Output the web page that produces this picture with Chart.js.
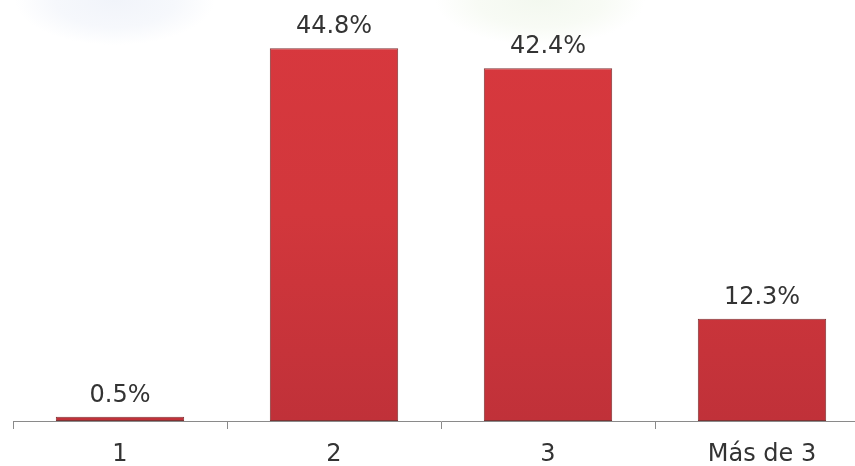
<!DOCTYPE html>
<html>
<head>
<meta charset="utf-8">
<script src="https://cdn.jsdelivr.net/npm/chart.js@4/dist/chart.umd.min.js"></script>
<style>
html,body{margin:0;padding:0;overflow:hidden;width:855px;height:466px;
background:
 radial-gradient(ellipse 100px 45px at 115px 0px, #f1f4fa 0%, #f6f8fc 60%, rgba(255,255,255,0) 100%),
 radial-gradient(ellipse 105px 45px at 540px 0px, #f3f8ef 0%, #f8fbf5 60%, rgba(255,255,255,0) 100%),
 #ffffff;}
canvas{display:block;}
</style>
</head>
<body>
<canvas id="c" width="880" height="466"></canvas>
<script>
const categories = ["1", "2", "3", "Más de 3"];
const values = [0.5, 44.8, 42.4, 12.3];
const valueLabels = ["0.5%", "44.8%", "42.4%", "12.3%"];

const FONT = '"DejaVu Sans", Verdana, sans-serif';

const labelPlugin = {
  id: 'valueLabels',
  afterDatasetsDraw(chart) {
    const ctx = chart.ctx;
    const meta = chart.getDatasetMeta(0);
    ctx.save();
    ctx.font = '24px ' + FONT;
    ctx.fillStyle = '#333333';
    ctx.textAlign = 'center';
    ctx.textBaseline = 'alphabetic';
    meta.data.forEach((bar, i) => {
      ctx.fillText(valueLabels[i], bar.x, bar.y - 15);
    });
    ctx.restore();
  }
};

function barFill(context) {
  const chart = context.chart;
  const area = chart.chartArea;
  if (!area) return '#d2363c';
  const g = chart.ctx.createLinearGradient(0, area.top, 0, area.bottom);
  g.addColorStop(0, '#d8383e');
  g.addColorStop(0.5, '#d2373c');
  g.addColorStop(1, '#c03139');
  return g;
}

new Chart(document.getElementById('c'), {
  type: 'bar',
  data: {
    labels: categories,
    datasets: [{
      data: values,
      backgroundColor: barFill,
      borderColor: '#7e3334',
      borderWidth: 1,
      borderSkipped: false,
      barPercentage: 1,
      categoryPercentage: 0.6
    }]
  },
  options: {
    responsive: false,
    animation: false,
    layout: { padding: { left: 13, right: 11, top: 5, bottom: 0 } },
    plugins: { legend: { display: false }, tooltip: { enabled: false } },
    scales: {
      x: {
        afterFit(scale) { scale.height = 45; },
        border: { display: true, color: '#8a8a8a', width: 1 },
        grid: { display: true, drawOnChartArea: false, drawTicks: true, tickLength: 8, color: '#8a8a8a', offset: true },
        ticks: { color: '#333333', padding: 11, font: { family: FONT, size: 24 } }
      },
      y: { display: false, min: 0, max: 50 }
    }
  },
  plugins: [labelPlugin]
});
</script>
</body>
</html>
